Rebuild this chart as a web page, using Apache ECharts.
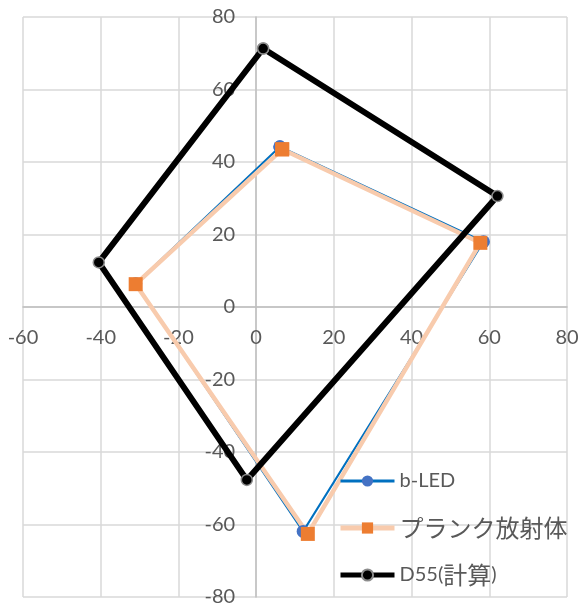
<!DOCTYPE html>
<html>
<head>
<meta charset="utf-8">
<script src="https://cdn.jsdelivr.net/npm/echarts@6/dist/echarts.min.js"></script>
<style>html,body{margin:0;padding:0;background:#fff;}#chart{width:582px;height:605px;}</style>
</head>
<body>
<div id="chart"></div>
<script>
// Data
const seriesNames = ['b-LED', 'プランク放射体', 'D55(計算)'];
const bledX = [6.1, 58.5, 12.1, -31.0, 6.1];
const bledY = [44.2, 18.0, -61.9, 6.4, 44.2];
const planckX = [6.7, 57.7, 13.3, -31.0, 6.7];
const planckY = [43.5, 17.7, -62.6, 6.3, 43.5];
const d55X = [1.8, 62.1, -2.4, -40.5, 1.8];
const d55Y = [71.3, 30.6, -47.7, 12.3, 71.3];
const xTicks = [-60, -40, -20, 0, 20, 40, 60, 80];
const yTicks = [-80, -60, -40, -20, 0, 20, 40, 60, 80];

function pairs(xs, ys) { return xs.map((x, i) => [x, ys[i]]); }

const font = 'Lato, "Noto Sans CJK JP", sans-serif';
const chart = echarts.init(document.getElementById('chart'));
chart.setOption({
  animation: false,
  backgroundColor: '#fff',
  grid: { left: 23, right: 15, top: 17, bottom: 8, containLabel: false, outerBoundsMode: 'none' },
  xAxis: {
    type: 'value',
    min: xTicks[0], max: xTicks[xTicks.length - 1], interval: 20,
    axisLine: { onZero: false, lineStyle: { color: '#BFBFBF', width: 1.5 } },
    axisTick: { show: false },
    axisLabel: { color: '#595959', fontSize: 20, fontFamily: font, margin: 21 },
    splitLine: { show: true, lineStyle: { color: '#D9D9D9', width: 1.5 } }
  },
  yAxis: {
    type: 'value',
    min: yTicks[0], max: yTicks[yTicks.length - 1], interval: 20,
    axisLine: { onZero: false, lineStyle: { color: '#BFBFBF', width: 1.5 } },
    axisTick: { show: false },
    axisLabel: { color: '#595959', fontSize: 20, fontFamily: font, margin: 21 },
    splitLine: { show: true, lineStyle: { color: '#D9D9D9', width: 1.5 } }
  },
  legend: {
    orient: 'vertical',
    left: 338, top: 469, padding: 0,
    itemWidth: 54, itemHeight: 14, itemGap: 23,
    data: [
      { name: seriesNames[0], lineStyle: { width: 3 } },
      { name: seriesNames[1], lineStyle: { width: 5 } },
      { name: seriesNames[2], lineStyle: { width: 5 } }
    ],
    formatter: n => n.replace(/([^\x00-\x7f]+)/g, '{j|$1}'),
    textStyle: {
      color: '#595959', fontSize: 20, fontFamily: font, lineHeight: 24,
      rich: { j: { fontSize: 24, fontFamily: '"Noto Sans CJK JP"', color: '#595959', lineHeight: 24 } }
    }
  },
  series: [
    {
      name: seriesNames[0], type: 'line', data: pairs(bledX, bledY),
      symbol: 'circle', symbolSize: 13,
      lineStyle: { color: '#0070C0', width: 2 },
      itemStyle: { color: '#4472C4' }
    },
    {
      name: seriesNames[1], type: 'line', data: pairs(planckX, planckY),
      symbol: 'rect', symbolSize: 14,
      lineStyle: { color: '#F8CBAD', width: 4.5 },
      itemStyle: { color: '#ED7D31' }
    },
    {
      name: seriesNames[2], type: 'line', data: pairs(d55X, d55Y),
      symbol: 'circle', symbolSize: 11,
      lineStyle: { color: '#000000', width: 6 },
      itemStyle: { color: '#000000', borderColor: '#8C8C8C', borderWidth: 1.5 }
    }
  ]
});

// Move the axes so they cross at the origin (as in the reference)
for (let k = 0; k < 3; k++) {
  const x0 = chart.convertToPixel({ xAxisIndex: 0 }, 0);
  const xMinPx = chart.convertToPixel({ xAxisIndex: 0 }, xTicks[0]);
  const y0 = chart.convertToPixel({ yAxisIndex: 0 }, 0);
  const yMinPx = chart.convertToPixel({ yAxisIndex: 0 }, yTicks[0]);
  chart.setOption({
    yAxis: { offset: xMinPx - x0 },
    xAxis: { offset: y0 - yMinPx }
  });
}
</script>
</body>
</html>
